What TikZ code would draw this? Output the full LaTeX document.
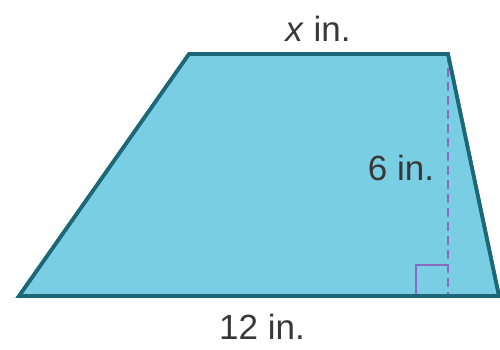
\documentclass[tikz,border=0pt]{standalone}
\usepackage{fontspec}
\setmainfont{Liberation Sans}
\usepackage{xcolor}
\usepackage{tikz}
\usetikzlibrary{calc}
\definecolor{shapefill}{RGB}{122,206,228}
\definecolor{shapeedge}{RGB}{28,104,120}
\definecolor{heightline}{RGB}{140,105,195}

\begin{document}
\begin{tikzpicture}[
  x=1pt, y=-1pt,
  edge/.style={draw=shapeedge, line width=3.6pt, line join=miter, fill=shapefill},
  hgt/.style={draw=heightline, line width=1.3pt, dash pattern=on 9pt off 5pt},
  rmark/.style={draw=heightline, line width=1.3pt},
  lbl/.style={font=\fontsize{35}{40}\selectfont, text=black!78, inner sep=0pt},
]
  \useasboundingbox (0,0) rectangle (500,350);
  % corners of the trapezoid
  \coordinate (bl) at (19,296);
  \coordinate (br) at (499,296);
  \coordinate (tr) at (448,54);
  \coordinate (tl) at (189,54);
  \coordinate (foot) at (448,296);
  \path[edge] (bl) -- (br) -- (tr) -- (tl) -- cycle;
  % height and right angle
  \draw[hgt] (tr) -- (foot);
  \draw[rmark] ($(foot)+(-32,0)$) -- ++(0,-31) -- ++(32,0);
  \path[edge, fill=none] (bl) -- (br) -- (tr) -- (tl) -- cycle;
  % labels
  \node[lbl] (top) at (318,29) {\textit{x} in.};
  \node[lbl] (side) at (401,168) {6 in.};
  \node[lbl] (base) at (262,327) {12 in.};
\end{tikzpicture}
\end{document}
